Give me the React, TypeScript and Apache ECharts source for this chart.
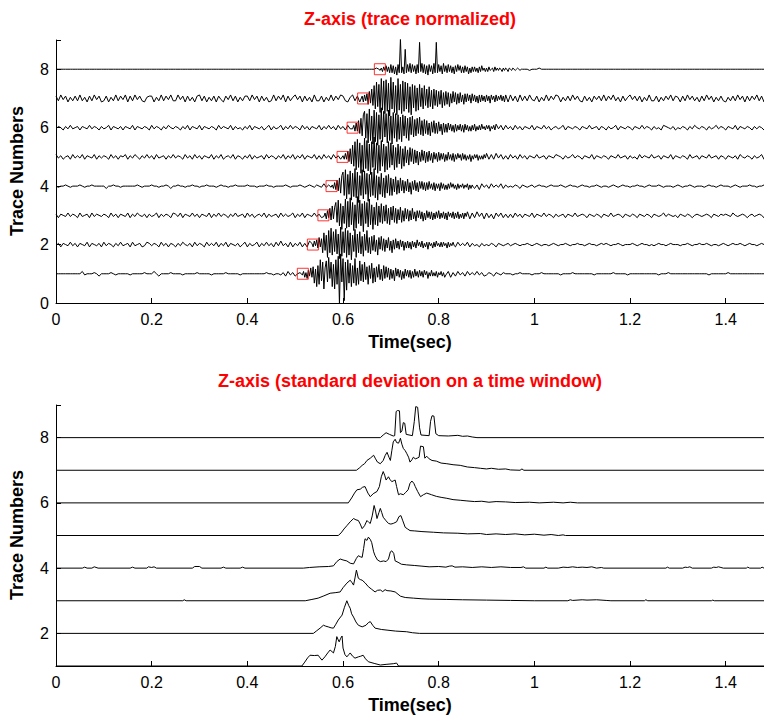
import React, { useEffect, useRef } from "react";
import * as echarts from "echarts";

// ---- Top panel: normalized traces, one char per sample.
// '0' = 0, 'A'..'Z' = +1..+26, 'a'..'z' = -1..-26 (in units of UNIT).
const STEP = 0.005; // whole-trace samples
const STEP_BURST = 0.0025; // denser samples in the burst window
const UNIT = 0.04;

const TRACE_1 =
  "0000000000 0Ba000A0b0 000A0a0000 0a00000A00 0B0b0000A0 000a00000A 00000a0000 0A00000a00 00000000A0 0a00aAbBaA " +
  "b0AbCaDcFe JgLmHdNjKf LzPhIkGfHd IeGgEcFdDe FcEdCbDcEb CcDbBcCaBb CbBaBcAbBa AbBaAaBaAb aA0bA0aA00 0a00A0000a " +
  "000A000000 0a0000A000 00000a0000 000A00000a 0000000000 00a000A000 0000000000 000a000000 0A00000000 0000000000";
const TRACE_2 =
  "aAbA0aBaAb A0aBbA0aAb BaA0bAaBa0 AbBa0AbaBA aA0bBaAbA0 bAaB0aAbBa A0bBaAaBbA aBbA0aAb0B bAa0BbAaBa AbBaCaAbBb " +
  "AaBbAbCaDd FeIhLjGkMg KiNhJfLlHe IgGdHfEeFc EdCeDcCbDc CbBcCbBbCa BbAcBaAbBa AaBbAa0bAa 0aA0bA0a0A a0A0a00A0a " +
  "0A0a00a0A0 a00A0a00A0 0a0A00a0A0 A0a00A0a00 0A0a0A00a0 a0A00a0A00 0a00A0a00A 00A0a00a0A 0a0A00A0a0 A00a0A0a00";
const TRACE_3 =
  "AbA0aBaA0b Ba0AbBaA0a A0bBaAbA0a BbAaB0aAbA a0BbAaA0bB AaBbA0aBaA bA0aBbAaBa A0bAaBa0Ab BaAb0AaBbA a0AbBaAa0B " +
  "bAaBbA0aBa AbBcDcGfJh MkIgLmKhNj HiJgLfIkGh GfHeFgEdGe EeDfCdEcDd DcCdBcCbDc CbCcBbCaBc BbAcBaBbAb AbBaAbA0aB " +
  "bA0aBaA0bA a0AbA0aBa0 A0bA0aA0bA 0aBa0A0bA0 aA0bA0aA0b A0a0BaA0a0 bA0aA0b0A0 a0A0bA0aA0 A0aB0a0A0b 0Aa0A0bA0a";
const TRACE_4 =
  "0a00A0a000 A0a00A0000 0b00A00a00 0000A0a000 A00a00A0b0 0A00a00A00 a00A000a0A 00a00A0000 A000a000A0 0a0000A0a0 " +
  "00A0a0A0aA 0aBaAbCeIk LhMjGkOiKf JlNgHkIeLi GhFeHdGfEe FdEeDcEdCd DcCbDcBcCb BcCaBbAcBa AbBaAaBbAa 0aA0bA0a0A " +
  "a0A00a0A00 0A0a0A00a0 A00a00A0a0 0a0A0a0A00 a00A00a0A0 00A0a000a0 A0a00A0a00 0a0A00a0A0 00a0A0a000 A00a00A0a0";
const TRACE_5 =
  "BaAb0AbBaA aBbA0aBbAa A0bBaAbA0B bAaB0bAaBa AbBa0AbAaB aA0bBaAbBa AbA0aBbAaB b0AaBbA0bA aBbAa0AbBa A0bAaBbAaB " +
  "bAaBbA0aBb AbBaAbBaAb BcDdGfKjMh OkLnJgPiNl KhMjIgLkHf IgGeHfFgEd FeDdEcDeCc DcCdBcCbBc CbBbCaBbAb BaAbBaAbA0 " +
  "aBa0AbA0aB A0bAa0BaA0 bA0aBbA0aA 0bA0aBa0Ab Aa0bBaA0aB a0AbA0aBbA 0aA0bBa0Ab A0aBa0AbA0 bA0aAbB0aA 0bAa0BbA0a";
const TRACE_6 =
  "aA0bAaBa0A bA0aBaA0bA a0BbA0aAbA 0aBbA0aA0b BaA0bAaB0a A0bAaBbA0a BbA0aA0bBa A0aBbAa0bA aBbA0aAb0B bAa0BbAaBa " +
  "A0bBaAbA0a BbAaBaAbBa AbBaBcDcFe HgKjNiLmJh OlMkPjKnIh LiJgHkIfGh GeFfEdFeDd EcDdCcDbCc CbBcCaBbBa AbBaAbA0aB " +
  "bA0aBaAb0A a0BbA0aA0b A0aBa0AbA0 bAa0BbA0aA 0bA0aBaA0b Aa0bBA0aAb 0aA0bAaB0a A0bAa0BaA0 bA0aBbA0aA 0bAaA0bA0a";
const TRACE_7 =
  "BbCaBcAbBb CbAcBbCaBc bBcAbCbBaC cBbCaBbcAB BcAbCbBaCb bCaBcBbAcB CbBcAbBcBa cBaCbBcAbB BbCaBcBbAc bCbBaCcBbA " +
  "CaBcBbAcCb bBcAbCbBaC BbcACbBcDf HfKiNjMlQk OmRiLnPkJh MjKhNkIgLi JgHiGfIhFg GeFfEgDeFd DdEcCdDbCc CbBcCbBbCa " +
  "bBcAbCbBaC BcAbBbCaBb cBbAcBaBbC bBaCbAcBbA CaBbBcAbCb bBcAbBaCbB AcBbCaBbAc BbCaBcAbBb cAbBbCaBcB bBaCbBcAbB";
const TRACE_8 =
  "0000000000 0000000000 0000000000 0000000000 0000000000 0000000000 0000000000 0000000000 0000000000 0000000000 " +
  "0000000000 0000000000 0000000000 0000AaBbCb DcCbZcQdEc DcWbEdCcDW cDcEdCcDbC cBcCbBaCbB aBbA0aA0bA 0a00A000a0 " +
  "00A0000000 0000000000 0000000000 0000000000 0000000000 0000000000 0000000000 0000000000 0000000000 0000000000";

// Dense burst samples (STEP_BURST apart) starting at BURST_START for each trace
const BURST_START = [0.515, 0.535, 0.56, 0.575, 0.6, 0.62, 0.64, 0.675];
const BURST_1 =
  "aBcAdCbEcF hDkGiLfJmE KgNdJkHmLi OzQgMwJnLh IkGhMjEiKf HgJeFiGdIh EgFcHeDfGd FcEeDdCfEb DcCeBdDbCc CdBcDbBcCb BcCaBdAbCb AbBcAaBbAc";
const BURST_2 =
  "AbCaDcFbEg JeHkLgNiKf MhIlOjKgNk LiJmHfMkIg KhGjIeLgFh GeHfDiFdGe EfDcFeCgDd EcCdDbCeBc CcBdCbBcDa BbCcAbBdBa AcBbCaAbBb BaAcBbAaBa";
const BURST_3 =
  "aBcDbFdHcG KfMiJlHgNk LjOhKmIkPg MiJnLgKjNh IlGhKiHfJg HeIgFhGdHf FgEdGfDeFc EeDdFcCeDb DcCeBdDbCc CdBcCbDcBb CcBdCaBbCc BbCcAbBcBa";
const BURST_4 =
  "aAbCcEdGfI LhNkJgMlKi OjLnIhNkMg KmJiLhOjIl HgKiGjIfJh GhFeHgEfGd EfDdFeCgDc EdCeDbDcCd CcDbBcCdBb BdCbBcAcBb CaBbAcBbAa BbAaBcAbAa";
const BURST_5 =
  "AbCbEdGfJh MkOiLnJmPj NlKoMiQkLn JlNhKmIkMi LgJkHiKfIj GhIeFgHdGf FeEgDdFcEe DdEcCeDbCd DcCbCdBcDb BcCdBbCaBc CbBcAbBdAb BaBcAbAbBa";
const BURST_6 =
  "aBcDcFeHgK NiLmPkJnOl MoKjQlNhLm OkJnMiLlKj IlKgJiHkIf JhGgHeIfFg GeFfDgEdFe DeEcCfDdCd DbCcBdCcBb CcBdCbBcAc BbCcAbBbCa AbBaBcAaBb";
const BURST_7 =
  "BcCbDeFdHf KiNgLlQjOm PkMoRiNlKn QjLmOkNiMl JnLhKkIjLg IiKfHhJgGi HfGgFeGhEf FeEgDdFcEe DdEcCeDcDb CdDbCcBdCc CbBcCbBdCa BcCbBaCbBc";
const BURST_8 =
  "0aAbBaCbBc DcCdBeDcZc BdQcDbEcDb CdDcWbEcDd CeDbCdEcWc DbCdEbCcDb CcBdCbDaCc BcCbBdAcBb BbAcBbCaAb AbBa0AbBaA aA0bAaA0bA 0aA0a0A0a0";

const TRACES = [TRACE_1, TRACE_2, TRACE_3, TRACE_4, TRACE_5, TRACE_6, TRACE_7, TRACE_8];
const BURSTS = [BURST_1, BURST_2, BURST_3, BURST_4, BURST_5, BURST_6, BURST_7, BURST_8];

// Picked onsets (red boxes): time (s) per trace 1..8
const PICK_TIMES = [0.516, 0.537, 0.559, 0.576, 0.599, 0.62, 0.642, 0.677];

// ---- Bottom panel: standard deviation curves, [time, value above baseline]
const STD_1 = [[0,0],[0.514,0],[0.52,0.12],[0.526,0.25],[0.531,0.33],[0.54,0.32],[0.548,0.33],[0.552,0.25],[0.556,0.18],[0.562,0.28],[0.568,0.4],[0.573,0.49],[0.577,0.44],[0.58,0.4],[0.584,0.6],[0.587,0.9],[0.59,0.8],[0.592,0.74],[0.595,0.85],[0.598,0.92],[0.6,0.55],[0.604,0.35],[0.608,0.28],[0.612,0.35],[0.615,0.4],[0.62,0.3],[0.625,0.24],[0.632,0.28],[0.637,0.3],[0.642,0.33],[0.647,0.22],[0.653,0.13],[0.665,0.08],[0.678,0.03],[0.69,0.05],[0.705,0.07],[0.712,0.09],[0.716,0],[1.48,0]];
const STD_2 = [[0,0],[0.538,0],[0.545,0.08],[0.552,0.16],[0.559,0.25],[0.564,0.22],[0.569,0.2],[0.575,0.17],[0.58,0.16],[0.585,0.28],[0.59,0.41],[0.598,0.56],[0.603,0.8],[0.608,1.0],[0.612,0.85],[0.615,0.77],[0.618,0.6],[0.622,0.5],[0.627,0.35],[0.632,0.25],[0.64,0.2],[0.648,0.25],[0.653,0.33],[0.657,0.36],[0.662,0.25],[0.667,0.16],[0.68,0.12],[0.692,0.1],[0.71,0.07],[0.733,0.05],[0.745,0.02],[0.76,0],[1.48,0]];
const STD_3 = [[0,0],[0.265,0],[0.268,0.03],[0.272,0],[0.521,0],[0.535,0.04],[0.548,0.08],[0.56,0.15],[0.573,0.23],[0.585,0.25],[0.594,0.27],[0.6,0.4],[0.608,0.54],[0.615,0.63],[0.619,0.55],[0.622,0.48],[0.625,0.7],[0.628,0.94],[0.632,0.69],[0.636,0.65],[0.64,0.63],[0.646,0.55],[0.653,0.43],[0.66,0.35],[0.667,0.27],[0.672,0.32],[0.678,0.33],[0.683,0.28],[0.688,0.34],[0.692,0.31],[0.7,0.3],[0.709,0.27],[0.715,0.2],[0.72,0.14],[0.73,0.1],[0.747,0.08],[0.765,0.06],[0.78,0.05],[0.817,0.04],[0.85,0.03],[0.9,0.02],[0.95,0.01],[1.0,0],[1.07,0],[1.075,0.03],[1.08,0.01],[1.1,0.03],[1.11,0.02],[1.13,0.03],[1.15,0.01],[1.16,0],[1.23,0],[1.233,0.03],[1.237,0],[1.37,0],[1.373,0.02],[1.376,0],[1.48,0]];
const STD_4 = [[0,0],[0.055,0],[0.06,0.03],[0.065,0],[0.075,0],[0.08,0.04],[0.088,0],[0.155,0],[0.16,0.03],[0.165,0],[0.19,0],[0.193,0.04],[0.2,0.02],[0.205,0.04],[0.21,0],[0.285,0],[0.29,0.05],[0.3,0.05],[0.305,0],[0.345,0],[0.35,0.03],[0.355,0],[0.385,0],[0.39,0.03],[0.395,0],[0.517,0],[0.53,0.02],[0.55,0.04],[0.57,0.05],[0.58,0.07],[0.587,0.2],[0.594,0.28],[0.6,0.25],[0.608,0.22],[0.615,0.15],[0.622,0.13],[0.628,0.3],[0.632,0.38],[0.636,0.35],[0.64,0.33],[0.643,0.6],[0.646,0.9],[0.65,0.85],[0.653,0.95],[0.657,0.88],[0.66,0.78],[0.664,0.5],[0.667,0.38],[0.672,0.25],[0.678,0.2],[0.685,0.22],[0.69,0.2],[0.695,0.28],[0.699,0.5],[0.702,0.53],[0.706,0.45],[0.709,0.22],[0.715,0.18],[0.722,0.12],[0.733,0.1],[0.75,0.08],[0.765,0.06],[0.78,0.04],[0.8,0.05],[0.815,0.03],[0.822,0.06],[0.828,0.07],[0.834,0.03],[0.85,0.04],[0.87,0.02],[0.89,0.04],[0.91,0.02],[0.93,0.04],[0.95,0.02],[0.972,0.02],[0.977,0.04],[0.982,0],[1.02,0],[1.024,0.03],[1.028,0],[1.05,0],[1.06,0.03],[1.07,0.02],[1.08,0.04],[1.09,0.02],[1.1,0.03],[1.11,0.02],[1.12,0.04],[1.13,0],[1.14,0.02],[1.145,0],[1.275,0],[1.278,0.03],[1.282,0],[1.31,0],[1.315,0.03],[1.32,0.02],[1.325,0.04],[1.33,0],[1.37,0],[1.375,0.03],[1.38,0.02],[1.385,0.04],[1.39,0.02],[1.395,0],[1.443,0],[1.446,0.03],[1.45,0],[1.473,0],[1.476,0.03],[1.48,0]];
const STD_5 = [[0,0],[0.59,0],[0.596,0.08],[0.602,0.2],[0.608,0.3],[0.615,0.42],[0.622,0.52],[0.627,0.48],[0.632,0.46],[0.636,0.35],[0.64,0.21],[0.645,0.3],[0.65,0.46],[0.654,0.4],[0.657,0.37],[0.661,0.6],[0.665,0.92],[0.668,0.75],[0.671,0.52],[0.675,0.7],[0.678,0.83],[0.681,0.7],[0.684,0.56],[0.69,0.45],[0.695,0.37],[0.7,0.35],[0.705,0.37],[0.712,0.42],[0.717,0.58],[0.721,0.61],[0.725,0.45],[0.73,0.25],[0.735,0.2],[0.74,0.15],[0.75,0.14],[0.765,0.12],[0.789,0.1],[0.81,0.08],[0.84,0.07],[0.86,0.05],[0.887,0.06],[0.9,0.03],[0.92,0.05],[0.94,0.03],[0.96,0.05],[0.98,0.02],[1.0,0.04],[1.02,0.01],[1.035,0.03],[1.05,0],[1.06,0.02],[1.065,0],[1.48,0]];
const STD_6 = [[0,0],[0.611,0],[0.618,0.15],[0.624,0.3],[0.629,0.4],[0.636,0.42],[0.641,0.48],[0.646,0.5],[0.652,0.3],[0.657,0.19],[0.663,0.28],[0.671,0.35],[0.676,0.5],[0.68,0.8],[0.684,0.96],[0.687,0.85],[0.69,0.7],[0.695,0.8],[0.698,0.72],[0.702,0.65],[0.706,0.68],[0.709,0.7],[0.712,0.5],[0.716,0.25],[0.72,0.28],[0.726,0.25],[0.731,0.32],[0.736,0.4],[0.74,0.6],[0.744,0.67],[0.748,0.6],[0.751,0.5],[0.756,0.35],[0.762,0.19],[0.768,0.25],[0.775,0.3],[0.785,0.25],[0.795,0.2],[0.805,0.17],[0.817,0.14],[0.83,0.1],[0.845,0.08],[0.859,0.06],[0.875,0.04],[0.89,0.05],[0.905,0.02],[0.92,0.04],[0.94,0.03],[0.96,0.01],[0.99,0.02],[1.01,0],[1.04,0.02],[1.06,0],[1.075,0.02],[1.09,0],[1.48,0]];
const STD_7 = [[0,0],[0.628,0],[0.635,0.08],[0.64,0.15],[0.645,0.2],[0.65,0.3],[0.657,0.37],[0.664,0.46],[0.668,0.35],[0.672,0.25],[0.678,0.2],[0.684,0.3],[0.688,0.45],[0.692,0.55],[0.696,0.4],[0.699,0.3],[0.702,0.6],[0.705,0.87],[0.709,0.95],[0.712,0.85],[0.716,0.83],[0.718,0.9],[0.72,0.98],[0.723,0.8],[0.726,0.67],[0.73,0.6],[0.733,0.52],[0.737,0.4],[0.74,0.25],[0.744,0.32],[0.747,0.4],[0.751,0.35],[0.755,0.37],[0.759,0.4],[0.762,0.74],[0.768,0.72],[0.771,0.37],[0.775,0.43],[0.78,0.35],[0.786,0.3],[0.795,0.28],[0.805,0.22],[0.817,0.2],[0.83,0.17],[0.845,0.15],[0.86,0.1],[0.875,0.08],[0.887,0.06],[0.9,0.04],[0.91,0.06],[0.925,0.03],[0.94,0.04],[0.95,0.01],[0.97,0],[0.974,0.04],[0.978,0],[1.48,0]];
const STD_8 = [[0,0],[0.678,0],[0.684,0.08],[0.69,0.15],[0.697,0.1],[0.705,0.05],[0.708,0.06],[0.711,0.8],[0.714,0.83],[0.718,0.82],[0.72,0.15],[0.723,0.2],[0.726,0.46],[0.729,0.44],[0.732,0.1],[0.745,0.06],[0.749,0.5],[0.752,0.95],[0.756,0.93],[0.76,0.3],[0.763,0.08],[0.78,0.06],[0.783,0.5],[0.786,0.67],[0.79,0.66],[0.794,0.12],[0.8,0.06],[0.82,0.05],[0.84,0.07],[0.85,0.04],[0.86,0.05],[0.87,0.02],[0.88,0],[1.48,0]];

const STDS = [STD_1, STD_2, STD_3, STD_4, STD_5, STD_6, STD_7, STD_8];

const X_MIN = 0;
const X_MAX = 1.48;
const X_INTERVAL = 0.2;
const TOP_Y = [0, 9];
const BOTTOM_Y = [1, 9];

const TITLE_TOP = "Z-axis (trace normalized)";
const TITLE_BOTTOM = "Z-axis (standard deviation on a time window)";
const X_NAME = "Time(sec)";
const Y_NAME = "Trace Numbers";

const FONT = "'Liberation Sans', Arial, Helvetica, sans-serif";

function decode(s: string): number[] {
  const out: number[] = [];
  for (const c of s.replace(/\s/g, "")) {
    if (c === "0") out.push(0);
    else if (c >= "A" && c <= "Z") out.push(c.charCodeAt(0) - 64);
    else out.push(-(c.charCodeAt(0) - 96));
  }
  return out;
}

function traceData(k: number, main: string, burst: string, start: number): number[][] {
  const m = decode(main);
  const b = decode(burst);
  const end = start + b.length * STEP_BURST;
  const pts: number[][] = [];
  m.forEach((c, i) => {
    const t = i * STEP;
    if (t < start - 1e-9) pts.push([t, k + c * UNIT]);
  });
  b.forEach((c, i) => pts.push([start + i * STEP_BURST, k + c * UNIT]));
  m.forEach((c, i) => {
    const t = i * STEP;
    if (t >= end - 1e-9) pts.push([t, k + c * UNIT]);
  });
  return pts;
}

export default function App() {
  const ref = useRef<HTMLDivElement>(null);
  useEffect(() => {
    if (!ref.current) return;
    const chart = echarts.init(ref.current, null, { renderer: "svg" });

    const xLabelFmt = (v: number) => {
      const k = v / X_INTERVAL;
      if (Math.abs(k - Math.round(k)) > 1e-6) return "";
      return String(Math.round(k * X_INTERVAL * 10) / 10);
    };
    const yLabelFmt = (v: number) => (Math.abs(v % 2) < 1e-6 ? String(v) : "");

    const axisCommonX = (gridIndex: number) => ({
      type: "value",
      gridIndex,
      min: X_MIN,
      max: X_MAX,
      interval: X_INTERVAL,
      axisLine: { show: true, lineStyle: { color: "#000", width: 1 } },
      axisTick: { show: true, inside: true, length: 5, lineStyle: { color: "#000" } },
      axisLabel: { color: "#000", fontSize: 16, fontFamily: FONT, margin: 8, formatter: xLabelFmt, showMaxLabel: false },
      splitLine: { show: false },
    });
    const axisCommonY = (gridIndex: number, range: number[], interval?: number) => ({
      type: "value",
      gridIndex,
      min: range[0],
      max: range[1],
      ...(interval ? { interval } : {}),
      axisLine: { show: true, onZero: false, lineStyle: { color: "#000", width: 1 } },
      axisTick: { show: true, inside: true, length: 5, lineStyle: { color: "#000" } },
      axisLabel: { color: "#000", fontSize: 16, fontFamily: FONT, margin: 7, formatter: yLabelFmt },
      splitLine: { show: false },
    });

    const series: any[] = [];
    TRACES.forEach((s, idx) => {
      const k = idx + 1;
      series.push({
        type: "line",
        xAxisIndex: 0,
        yAxisIndex: 0,
        data: traceData(k, s, BURSTS[idx], BURST_START[idx]),
        showSymbol: false,
        symbol: "none",
        lineStyle: { color: "#000", width: 1 },
        silent: true,
        clip: true,
      });
    });
    series.push({
      type: "scatter",
      xAxisIndex: 0,
      yAxisIndex: 0,
      data: PICK_TIMES.map((t, i) => [t, i + 1]),
      symbol: "rect",
      symbolSize: [11, 11],
      itemStyle: { color: "rgba(0,0,0,0)", borderColor: "#ff0000", borderWidth: 1 },
      z: 5,
      silent: true,
    });
    STDS.forEach((arr, idx) => {
      const k = idx + 1;
      series.push({
        type: "line",
        xAxisIndex: 1,
        yAxisIndex: 1,
        data: arr.map(([t, v]) => [t, k + v]),
        showSymbol: false,
        symbol: "none",
        lineStyle: { color: "#000", width: 1 },
        silent: true,
        clip: true,
      });
    });

    const textStyle = (fill: string) => ({
      fill,
      font: `bold 18px ${FONT}`,
      align: "center",
      verticalAlign: "middle",
    });

    chart.setOption({
      animation: false,
      backgroundColor: "#fff",
      grid: [
        { left: 56, right: 0, top: 40, height: 263, outerBoundsMode: "none" },
        { left: 56, right: 0, top: 405, height: 261, outerBoundsMode: "none" },
      ],
      xAxis: [axisCommonX(0), axisCommonX(1)],
      yAxis: [axisCommonY(0, TOP_Y, 2), axisCommonY(1, BOTTOM_Y)],
      series,
      graphic: [
        { type: "text", x: 410, y: 19, style: { text: TITLE_TOP, ...textStyle("#ff0000") } },
        { type: "text", x: 410, y: 342, style: { text: X_NAME, ...textStyle("#000") } },
        { type: "text", x: 17, y: 171, rotation: Math.PI / 2, style: { text: Y_NAME, ...textStyle("#000") } },
        { type: "text", x: 410, y: 381, style: { text: TITLE_BOTTOM, ...textStyle("#ff0000") } },
        { type: "text", x: 410, y: 705, style: { text: X_NAME, ...textStyle("#000") } },
        { type: "text", x: 17, y: 535, rotation: Math.PI / 2, style: { text: Y_NAME, ...textStyle("#000") } },
      ],
    });
    return () => chart.dispose();
  }, []);

  return (
    <div
      ref={ref}
      style={{ position: "absolute", left: 0, top: 0, width: 764, height: 719, background: "#fff" }}
    />
  );
}
